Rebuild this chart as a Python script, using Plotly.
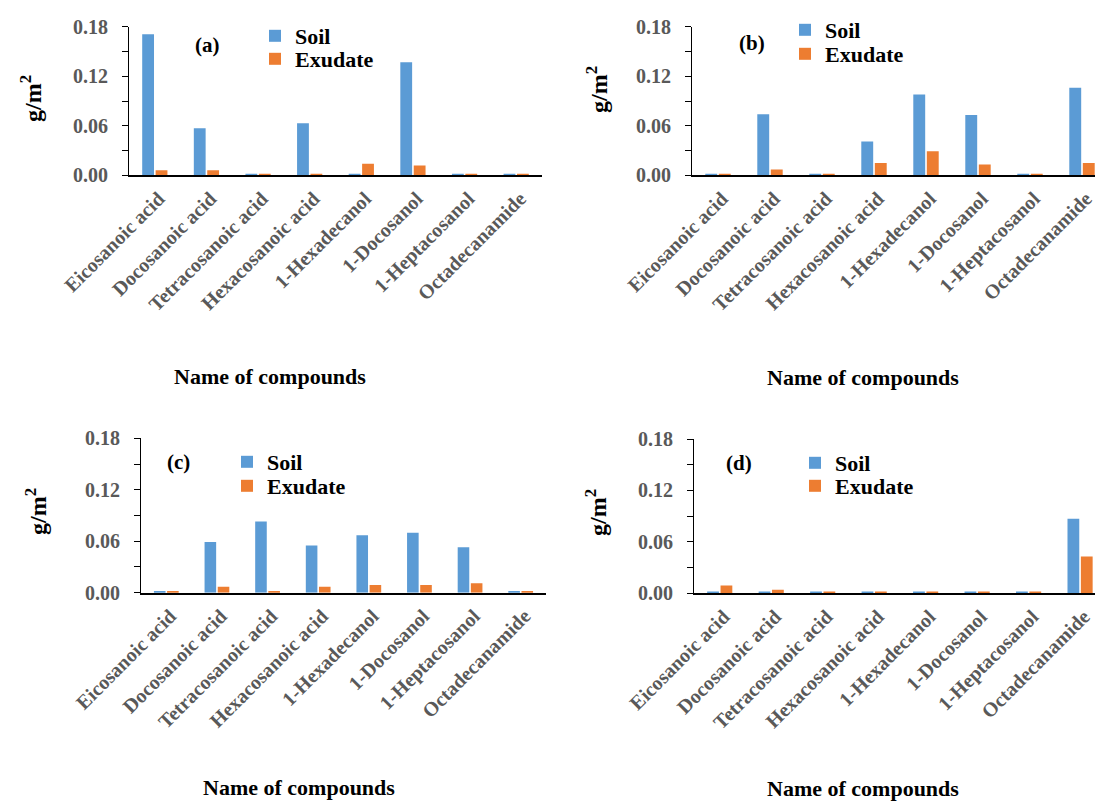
import plotly.graph_objects as go

# Compounds on the x axis
compounds = ["Eicosanoic acid", "Docosanoic acid", "Tetracosanoic acid",
             "Hexacosanoic acid", "1-Hexadecanol", "1-Docosanol",
             "1-Heptacosanol", "Octadecanamide"]

# Concentrations (g/m2) for each panel
soil_a = [0.171, 0.057, 0.002, 0.063, 0.002, 0.137, 0.002, 0.002]
exudate_a = [0.006, 0.006, 0.002, 0.002, 0.014, 0.012, 0.002, 0.002]

soil_b = [0.002, 0.074, 0.002, 0.041, 0.098, 0.073, 0.002, 0.106]
exudate_b = [0.002, 0.007, 0.002, 0.015, 0.029, 0.013, 0.002, 0.015]

soil_c = [0.002, 0.059, 0.083, 0.055, 0.067, 0.070, 0.053, 0.002]
exudate_c = [0.002, 0.007, 0.002, 0.007, 0.009, 0.009, 0.011, 0.002]

soil_d = [0.002, 0.002, 0.002, 0.002, 0.002, 0.002, 0.002, 0.087]
exudate_d = [0.009, 0.004, 0.002, 0.002, 0.002, 0.002, 0.002, 0.043]

panel_labels = ["(a)", "(b)", "(c)", "(d)"]
y_ticks = [0, 0.06, 0.12, 0.18]
y_minor = [0.03, 0.09, 0.15]

W, H = 1095, 803
SOIL = "#5B9BD5"
EXUD = "#ED7D31"
FONT = "Liberation Serif"
GRAY = "#595959"


def px_x(v):
    return v / W


def px_y(v):
    return 1 - v / H


def bold(size, color="black"):
    return dict(family=FONT, size=size, color=color, weight="bold")


# Plot areas in pixels: (left, right, top, bottom, x-range end)
# The right-hand panels run off the page edge, so their range stops short.
panels = [
    (129, 542, 26.7, 175.3, 7.5),
    (692, 1095, 26.7, 175.3, 7.25),
    (141, 546, 438.3, 592.7, 7.5),
    (694, 1095, 439.0, 593.3, 7.29),
]
series = [(soil_a, exudate_a), (soil_b, exudate_b),
          (soil_c, exudate_c), (soil_d, exudate_d)]

# Legend entries (left x, centre y of Soil, centre y of Exudate), pixels
legend_pos = [(255, 36, 59), (785, 30, 54), (227, 462, 486), (795, 463, 486)]
label_pos = [(207, 45), (752, 43), (178, 462), (739, 463)]
ytitle_pos = [(31, 99), (597, 90), (36, 512), (596, 512)]
xtitle_pos = [(270, 376), (863, 377), (299, 787), (863, 788)]

fig = go.Figure()
layout = dict(
    template="none",
    width=W, height=H,
    margin=dict(l=0, r=0, t=0, b=0, pad=0, autoexpand=False),
    paper_bgcolor="white", plot_bgcolor="white",
    barmode="group", bargap=0.48, bargroupgap=0.12,
    font=bold(21),
    showlegend=True,
    annotations=[],
)

for i, ((l, r, t, b, xend), (soil, exud)) in enumerate(zip(panels, series)):
    n = "" if i == 0 else str(i + 1)
    # one legend box per entry so the two rows sit close together
    leg_soil = "legend" + ("" if i == 0 else str(2 * i + 1))
    leg_exud = "legend" + str(2 * i + 2)
    fig.add_trace(go.Bar(x=compounds, y=soil, name="Soil", showlegend=True,
                         marker=dict(color=SOIL, line=dict(width=0)),
                         xaxis="x" + n, yaxis="y" + n, legend=leg_soil))
    fig.add_trace(go.Bar(x=compounds, y=exud, name="Exudate", showlegend=True,
                         marker=dict(color=EXUD, line=dict(width=0)),
                         xaxis="x" + n, yaxis="y" + n, legend=leg_exud))

    layout["xaxis" + n] = dict(
        domain=[px_x(l), px_x(r)], anchor="y" + n, automargin=False,
        type="category", categoryorder="array", categoryarray=compounds,
        range=[-0.5, xend],
        showline=True, linecolor="black", linewidth=1.6,
        ticks="", tickangle=-45, ticklabelstandoff=2, ticklabelshift=4,
        tickfont=bold(20, GRAY),
        showgrid=False, zeroline=False, fixedrange=True,
    )
    layout["yaxis" + n] = dict(
        domain=[px_y(b), px_y(t)], anchor="x" + n, automargin=False,
        range=[0, 0.18], tickvals=y_ticks, tickformat=".2f",
        showline=True, linecolor="black", linewidth=1.2,
        ticks="outside", ticklen=6, tickcolor="black", tickwidth=1.2,
        minor=dict(tickvals=y_minor, ticks="outside", ticklen=6,
                   tickcolor="black", tickwidth=1.2),
        ticklabelstandoff=10,
        tickfont=bold(20, GRAY),
        showgrid=False, zeroline=False, fixedrange=True,
    )

    lx, ly_soil, ly_exud = legend_pos[i]
    for key, ly in ((leg_soil, ly_soil), (leg_exud, ly_exud)):
        layout[key] = dict(
            x=px_x(lx), y=px_y(ly), xanchor="left", yanchor="middle",
            bgcolor="rgba(0,0,0,0)", borderwidth=0, visible=True,
            font=bold(22), tracegroupgap=0,
        )

    ax, ay = label_pos[i]
    layout["annotations"].append(dict(
        text=panel_labels[i], x=px_x(ax), y=px_y(ay),
        xanchor="center", yanchor="middle",
        xref="paper", yref="paper", showarrow=False, font=bold(21)))

    tx, ty = ytitle_pos[i]
    layout["annotations"].append(dict(
        text="g/m<sup>2</sup>", x=px_x(tx), y=px_y(ty),
        xanchor="center", yanchor="middle",
        xref="paper", yref="paper", showarrow=False, textangle=-90,
        font=bold(24)))

    xx, xy = xtitle_pos[i]
    layout["annotations"].append(dict(
        text="Name of compounds", x=px_x(xx), y=px_y(xy),
        xanchor="center", yanchor="middle",
        xref="paper", yref="paper", showarrow=False, font=bold(22)))

fig.update_layout(**layout)
fig.write_html("out.html")
